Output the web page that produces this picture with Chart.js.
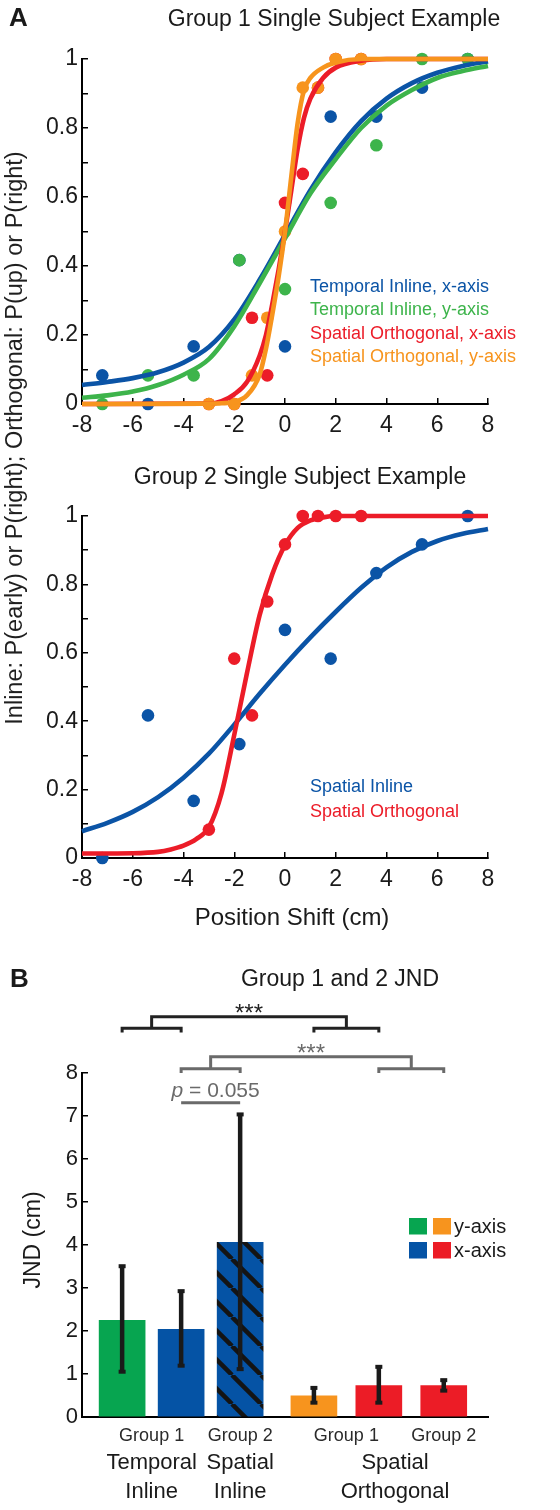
<!DOCTYPE html>
<html>
<head>
<meta charset="utf-8">
<title>Psychometric fits and JND</title>
<script src="https://cdn.jsdelivr.net/npm/chart.js@4.4.1/dist/chart.umd.min.js"></script>
<style>
  html, body { margin: 0; padding: 0; background: #fff; }
  #figure { position: relative; width: 560px; height: 1510px; background: #fff; overflow: hidden; }
  #figure canvas { position: absolute; left: 0; }
  #ylabelA {
    position: absolute; left: -337px; top: 426px; width: 700px; height: 24px; line-height: 24px;
    text-align: center; transform: rotate(-90deg); white-space: nowrap;
    font: 23.5px "Liberation Sans", Arial, Helvetica, sans-serif; color: #1f1f1f;
  }
</style>
</head>
<body>
<div id="figure">
  <canvas id="chartA1" width="560" height="450" style="top:0;width:560px;height:450px"></canvas>
  <canvas id="chartA2" width="560" height="485" style="top:455px;width:560px;height:485px"></canvas>
  <canvas id="chartB" width="560" height="570" style="top:940px;width:560px;height:570px"></canvas>
  <div id="ylabelA">Inline: P(early) or P(right); Orthogonal: P(up) or P(right)</div>
</div>
<script>
const FONT = '"Liberation Sans", Arial, Helvetica, sans-serif';
const INK = '#1a1a1a';
Chart.defaults.font.family = FONT;
Chart.defaults.color = INK;

// ---------- panel A: measured proportions ----------
const shiftTemporal = [-7.2, -5.4, -3.6, -1.8, 0, 1.8, 3.6, 5.4, 7.2];
const shiftOrtho = [-3, -2, -1.3, -0.7, 0, 0.7, 1.3, 2, 3];

// group 1
const g1TempX = [0.083, 0, 0.167, 0.417, 0.167, 0.833, 0.833, 0.917, 1];
const g1TempY = [0, 0.083, 0.083, 0.417, 0.333, 0.583, 0.75, 1, 1];
const g1OrthoX = [0, 0, 0.25, 0.083, 0.583, 0.667, 0.917, 1, 1];
const g1OrthoY = [0, 0, 0.083, 0.25, 0.5, 0.917, 0.917, 1, 1];

// group 2
const g2Inline = [0, 0.417, 0.167, 0.333, 0.667, 0.583, 0.833, 0.917, 1];
const g2Ortho = [0.083, 0.583, 0.417, 0.75, 0.917, 1, 1, 1, 1];

// fitted curves
const fitGrid = [-8, -7, -6, -5, -4, -3, -2, -1, 0, 1, 2, 3, 4, 5, 6, 7, 8];
const fitG1TempX = [0.055, 0.064, 0.075, 0.092, 0.12, 0.165, 0.245, 0.36, 0.49, 0.62, 0.73, 0.82, 0.885, 0.93, 0.96, 0.98, 0.993];
const fitG1TempY = [0.018, 0.025, 0.036, 0.055, 0.085, 0.13, 0.225, 0.35, 0.48, 0.61, 0.71, 0.8, 0.865, 0.91, 0.945, 0.965, 0.98];
const fitG2Inline = [0.078, 0.103, 0.135, 0.178, 0.235, 0.305, 0.39, 0.48, 0.565, 0.645, 0.72, 0.79, 0.85, 0.895, 0.927, 0.948, 0.962];

const fitGridOrtho1 = [-8, -3, -2.5, -2, -1.5, -1, -0.75, -0.5, -0.25, 0, 0.25, 0.5, 0.75, 1, 1.5, 2, 3, 4, 8];
const fitG1OrthoX = [0, 0.001, 0.008, 0.028, 0.064, 0.14, 0.2, 0.29, 0.39, 0.5, 0.62, 0.74, 0.83, 0.885, 0.945, 0.975, 0.995, 1, 1];
const fitG1OrthoY = [0, 0.001, 0.002, 0.006, 0.025, 0.085, 0.16, 0.26, 0.37, 0.5, 0.66, 0.815, 0.91, 0.945, 0.975, 0.99, 1, 1, 1];

const fitGridOrtho2 = [-8, -6, -5, -4.5, -4, -3.5, -3, -2.5, -2, -1.5, -1, -0.5, 0, 0.5, 1, 1.5, 2, 3, 8];
const fitG2Ortho = [0.013, 0.014, 0.018, 0.025, 0.036, 0.055, 0.09, 0.19, 0.36, 0.54, 0.71, 0.83, 0.915, 0.965, 0.987, 0.996, 1, 1, 1];

const xTicksA = { min: -8, max: 8, step: 2 };

// ---------- panel B: JND ----------
const barGroupLabels = ['Group 1', 'Group 2', 'Group 1', 'Group 2'];
const barGroupOf = [[0, 1], [2], [3, 4], [5]];
const conditionLabels = [['Temporal', 'Inline'], ['Spatial', 'Inline'], ['Spatial', 'Orthogonal']];
const conditionOf = [[0], [1], [2, 3]];
const barX = [1, 2, 3, 4.25, 5.35, 6.45];
const jnd = [2.25, 2.04, 4.06, 0.49, 0.73, 0.73];
const jndLow = [1.03, 1.17, 1.09, 0.31, 0.31, 0.59];
const jndHigh = [3.53, 2.95, 7.06, 0.70, 1.19, 0.88];
const sigTests = [
  { left: [0, 1], right: [3, 4], label: '***' },
  { left: [1, 2], right: [4, 5], label: '***' }
];
const pTest = { pair: [1, 2], label: '0.055' };

// ---------- colours ----------
const C = {
  blue: '#0b54a6', green: '#3db44b', red: '#ec1c28', orange: '#f7941d',
  barGreen: '#07a550', barBlue: '#0553a5', barOrange: '#f7941e', barRed: '#ec1c26'
};

const pts = (xs, ys) => xs.map((x, i) => ({ x, y: ys[i] }));

function scatterSet(data, color, order) {
  return { data, showLine: false, pointRadius: 6.3, pointHoverRadius: 6.3, pointBorderWidth: 0,
    backgroundColor: color, borderColor: color, order, clip: false };
}
function curveSet(data, color, order) {
  return { data, showLine: true, pointRadius: 0, borderWidth: 4.6, borderColor: color,
    cubicInterpolationMode: 'monotone', fill: false, order, clip: false };
}

const inwardGrid = { display: true, drawOnChartArea: false, drawTicks: true, tickLength: -6, color: '#000', lineWidth: 1.5 };
const axisBorder = { display: true, color: '#000', width: 2 };

function psychScales(xAxisHeight) {
  return {
    x: {
      type: 'linear', min: xTicksA.min, max: xTicksA.max,
      ticks: { stepSize: xTicksA.step, autoSkip: false, maxRotation: 0, padding: 14, font: { size: 23 }, color: INK },
      grid: inwardGrid, border: axisBorder,
      afterFit: s => { s.height = xAxisHeight; }
    },
    y: {
      type: 'linear', min: 0, max: 1,
      ticks: {
        stepSize: 0.1, autoSkip: false, padding: 10, font: { size: 23 }, color: INK,
        callback: v => (Math.round(v * 10) % 2 ? '' : String(Math.round(v * 10) / 10))
      },
      grid: inwardGrid, border: axisBorder,
      afterFit: s => { s.width = 82; }
    }
  };
}

function panelText(o) {
  return {
    id: 'panelText',
    afterDraw(chart) {
      const ctx = chart.ctx;
      ctx.save();
      ctx.textBaseline = 'middle';
      if (o.letter) {
        ctx.font = 'bold 26px ' + FONT; ctx.fillStyle = INK; ctx.textAlign = 'left';
        ctx.fillText(o.letter, 9, o.letterY);
      }
      ctx.font = '23px ' + FONT; ctx.fillStyle = INK; ctx.textAlign = 'center';
      ctx.fillText(o.title, o.titleX, o.titleY);
      if (o.xTitle) {
        ctx.font = '24px ' + FONT;
        ctx.fillText(o.xTitle, 292, o.xTitleY);
      }
      ctx.font = '18px ' + FONT; ctx.textAlign = 'left';
      o.legend.forEach((l, i) => {
        ctx.fillStyle = l.color;
        ctx.fillText(l.text, 310, o.legendY + i * o.legendStep);
      });
      ctx.restore();
    }
  };
}

const baseOpts = {
  responsive: false, animation: false, devicePixelRatio: 1, events: [],
  plugins: { legend: { display: false }, tooltip: { enabled: false } }
};

// ---- A, group 1 ----
new Chart(document.getElementById('chartA1'), {
  type: 'scatter',
  data: {
    datasets: [
      scatterSet(pts(shiftTemporal, g1TempX), C.blue, 8),
      scatterSet(pts(shiftTemporal, g1TempY), C.green, 7),
      scatterSet(pts(shiftOrtho, g1OrthoX), C.red, 6),
      scatterSet(pts(shiftOrtho, g1OrthoY), C.orange, 5),
      curveSet(pts(fitGrid, fitG1TempX), C.blue, 4),
      curveSet(pts(fitGrid, fitG1TempY), C.green, 3),
      curveSet(pts(fitGridOrtho1, fitG1OrthoX), C.red, 2),
      curveSet(pts(fitGridOrtho1, fitG1OrthoY), C.orange, 1)
    ]
  },
  options: Object.assign({}, baseOpts, {
    layout: { padding: { left: 0, top: 59, right: 72, bottom: 0 } },
    scales: psychScales(46)
  }),
  plugins: [panelText({
    letter: 'A', letterY: 19, title: 'Group 1 Single Subject Example', titleX: 334, titleY: 20,
    legendY: 287, legendStep: 23.3,
    legend: [
      { text: 'Temporal Inline, x-axis', color: C.blue },
      { text: 'Temporal Inline, y-axis', color: C.green },
      { text: 'Spatial Orthogonal, x-axis', color: C.red },
      { text: 'Spatial Orthogonal, y-axis', color: C.orange }
    ]
  })]
});

// ---- A, group 2 ----
new Chart(document.getElementById('chartA2'), {
  type: 'scatter',
  data: {
    datasets: [
      scatterSet(pts(shiftTemporal, g2Inline), C.blue, 4),
      scatterSet(pts(shiftOrtho, g2Ortho), C.red, 3),
      curveSet(pts(fitGrid, fitG2Inline), C.blue, 2),
      curveSet(pts(fitGridOrtho2, fitG2Ortho), C.red, 1)
    ]
  },
  options: Object.assign({}, baseOpts, {
    layout: { padding: { left: 0, top: 61, right: 72, bottom: 0 } },
    scales: psychScales(82)
  }),
  plugins: [panelText({
    title: 'Group 2 Single Subject Example', titleX: 300, titleY: 23,
    xTitle: 'Position Shift (cm)', xTitleY: 463,
    legendY: 332, legendStep: 25,
    legend: [
      { text: 'Spatial Inline', color: C.blue },
      { text: 'Spatial Orthogonal', color: C.red }
    ]
  })]
});

// ---- B: JND bars ----
function hatch(base) {
  const s = 29;
  const c = document.createElement('canvas');
  c.width = s; c.height = s;
  const g = c.getContext('2d');
  g.fillStyle = base; g.fillRect(0, 0, s, s);
  g.strokeStyle = '#141414'; g.lineWidth = 4.5;
  for (const o of [-s, 0, s]) {
    g.beginPath(); g.moveTo(o, 0); g.lineTo(o + s, s); g.stroke();
  }
  return g.createPattern(c, 'repeat');
}
const barFills = [C.barGreen, C.barBlue, hatch(C.barBlue), C.barOrange, C.barRed, C.barRed];
const bracketStyle = [
  { sub: 9.04, top: 9.31, drop: 8.94, color: '#222222' },
  { sub: 8.10, top: 8.38, drop: 8.0, color: '#6a6a6a' }
];
const pLineAt = 7.31;

const barExtras = {
  id: 'barExtras',
  afterDatasetsDraw(chart) {
    const ctx = chart.ctx;
    const xs = chart.scales.x, ys = chart.scales.y;
    const px = i => xs.getPixelForValue(barX[i]);
    const py = v => ys.getPixelForValue(v);
    ctx.save();
    // error bars
    ctx.strokeStyle = INK; ctx.fillStyle = INK; ctx.lineWidth = 4.5;
    jnd.forEach((_, i) => {
      const x = px(i), lo = py(jndLow[i]), hi = py(jndHigh[i]);
      ctx.beginPath(); ctx.moveTo(x, lo); ctx.lineTo(x, hi); ctx.stroke();
      ctx.fillRect(x - 3.5, hi - 1, 7, 4);
      ctx.fillRect(x - 3.5, lo - 3, 7, 4);
    });
    // significance brackets
    ctx.lineWidth = 3;
    ctx.textAlign = 'center'; ctx.textBaseline = 'alphabetic';
    sigTests.forEach((t, k) => {
      const st = bracketStyle[k];
      const a0 = px(t.left[0]), a1 = px(t.left[1]), b0 = px(t.right[0]), b1 = px(t.right[1]);
      const yS = py(st.sub), yT = py(st.top), yD = py(st.drop);
      const ma = (a0 + a1) / 2, mb = (b0 + b1) / 2;
      ctx.strokeStyle = st.color; ctx.fillStyle = st.color;
      ctx.beginPath();
      ctx.moveTo(a0, yD); ctx.lineTo(a0, yS); ctx.lineTo(a1, yS); ctx.lineTo(a1, yD);
      ctx.moveTo(b0, yD); ctx.lineTo(b0, yS); ctx.lineTo(b1, yS); ctx.lineTo(b1, yD);
      ctx.moveTo(ma, yS); ctx.lineTo(ma, yT); ctx.lineTo(mb, yT); ctx.lineTo(mb, yS);
      ctx.stroke();
      ctx.font = '24px ' + FONT;
      ctx.fillText(t.label, (ma + mb) / 2, yT + 4);
    });
    // p-value line
    const p0 = px(pTest.pair[0]), p1 = px(pTest.pair[1]), yP = py(pLineAt);
    ctx.strokeStyle = '#6a6a6a'; ctx.fillStyle = '#6a6a6a';
    ctx.beginPath(); ctx.moveTo(p0, yP); ctx.lineTo(p1, yP); ctx.stroke();
    ctx.font = 'italic 21px ' + FONT;
    const wP = ctx.measureText('p').width;
    ctx.font = '21px ' + FONT;
    const rest = ' = ' + pTest.label;
    const wR = ctx.measureText(rest).width;
    let tx = (p0 + p1) / 2 + 5 - (wP + wR) / 2;
    ctx.textAlign = 'left';
    ctx.font = 'italic 21px ' + FONT; ctx.fillText('p', tx, yP - 6);
    ctx.font = '21px ' + FONT; ctx.fillText(rest, tx + wP, yP - 6);
    ctx.restore();
  },
  afterDraw(chart) {
    const ctx = chart.ctx;
    const xs = chart.scales.x, area = chart.chartArea;
    const mean = arr => arr.reduce((s, v) => s + v, 0) / arr.length;
    const groupCenters = barGroupOf.map(ix => mean(ix.map(i => xs.getPixelForValue(barX[i]))));
    ctx.save();
    ctx.textBaseline = 'middle';
    ctx.fillStyle = INK;
    ctx.font = 'bold 26px ' + FONT; ctx.textAlign = 'left';
    ctx.fillText('B', 10, 40);
    ctx.font = '23px ' + FONT; ctx.textAlign = 'center';
    ctx.fillText('Group 1 and 2 JND', 340, 40);
    // category labels
    ctx.font = '18px ' + FONT; ctx.fillStyle = '#2a2a2a';
    barGroupLabels.forEach((t, i) => ctx.fillText(t, groupCenters[i], area.bottom + 19));
    ctx.font = '22px ' + FONT; ctx.fillStyle = INK;
    conditionLabels.forEach((lines, i) => {
      const cx = mean(conditionOf[i].map(g => groupCenters[g]));
      lines.forEach((t, j) => ctx.fillText(t, cx, area.bottom + 46 + j * 29));
    });
    // y title
    ctx.save();
    ctx.translate(34, (area.top + area.bottom) / 2 - 5);
    ctx.rotate(-Math.PI / 2);
    ctx.font = '23px ' + FONT;
    ctx.fillText('JND (cm)', 0, 0);
    ctx.restore();
    // legend
    const sw = [[C.barGreen, 409, 278], [C.barOrange, 433, 278], [C.barBlue, 409, 302], [C.barRed, 433, 302]];
    sw.forEach(([c, x, y]) => { ctx.fillStyle = c; ctx.fillRect(x, y, 18, 16.5); });
    ctx.fillStyle = INK; ctx.font = '20px ' + FONT; ctx.textAlign = 'left';
    ctx.fillText('y-axis', 454, 287);
    ctx.fillText('x-axis', 454, 311);
    ctx.restore();
  }
};

new Chart(document.getElementById('chartB'), {
  type: 'bar',
  data: {
    datasets: [{ data: pts(barX, jnd), backgroundColor: barFills, borderWidth: 0, barThickness: 46 }]
  },
  options: Object.assign({}, baseOpts, {
    layout: { padding: { left: 0, top: 133, right: 72, bottom: 0 } },
    scales: {
      x: {
        type: 'linear', min: 0.32, max: 7.2, offset: false,
        ticks: { display: false },
        grid: { display: false, offset: false },
        border: axisBorder,
        afterFit: s => { s.height = 93; }
      },
      y: {
        type: 'linear', min: 0, max: 8,
        ticks: { stepSize: 1, autoSkip: false, padding: 10, font: { size: 22 }, color: INK },
        grid: inwardGrid, border: axisBorder,
        afterFit: s => { s.width = 82; }
      }
    }
  }),
  plugins: [barExtras]
});
</script>
</body>
</html>
